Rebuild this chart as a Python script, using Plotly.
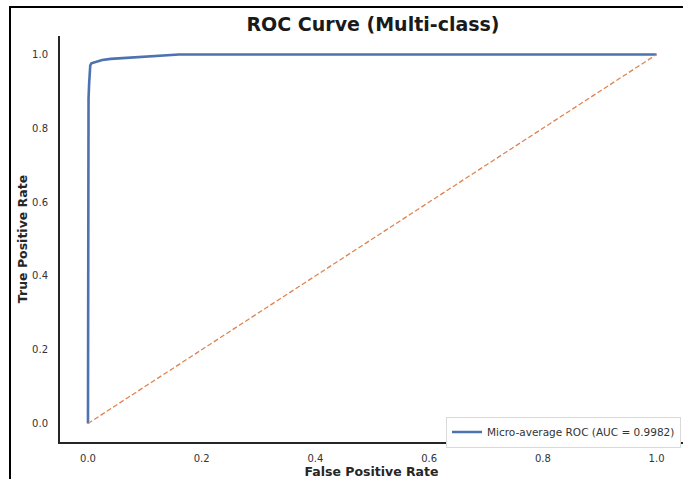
import plotly.graph_objects as go

# ROC curve (micro-average) points
fpr = [0.0, 0.0, 0.001, 0.002, 0.003, 0.004, 0.006, 0.010, 0.015, 0.025, 0.040,
       0.060, 0.080, 0.100, 0.130, 0.160, 1.0]
tpr = [0.0, 0.83, 0.88, 0.92, 0.95, 0.970, 0.976, 0.978, 0.982, 0.985, 0.988,
       0.990, 0.992, 0.994, 0.996, 1.0, 1.0]
diag_x = [0.0, 1.0]
diag_y = [0.0, 1.0]
tick_vals = [0.0, 0.2, 0.4, 0.6, 0.8, 1.0]
tick_text = ["0.0", "0.2", "0.4", "0.6", "0.8", "1.0"]
legend_label = "Micro-average ROC (AUC = 0.9982)"
title_text = "ROC Curve (Multi-class)"

W, H = 683, 479
ML, MR, MT, MB = 60, 0, 36, 37
pw = W - ML - MR
ph = H - MT - MB

fig = go.Figure()
fig.add_trace(go.Scatter(x=fpr, y=tpr, mode="lines", name=legend_label,
                         line=dict(color="#4C72B0", width=2.6)))
fig.add_trace(go.Scatter(x=diag_x, y=diag_y, mode="lines", showlegend=False,
                         line=dict(color="#DD8452", width=1.3, dash="5px,2.5px")))

axis_font = dict(family="DejaVu Sans", size=10, color="#333333")
fig.update_xaxes(range=[-0.0492, 1.0465], tickvals=tick_vals, ticktext=tick_text,
                 showgrid=False, zeroline=False, showline=True, linecolor="#262626",
                 linewidth=2, ticks="", tickfont=axis_font, ticklabelstandoff=6,
                 title=dict(text="<b>False Positive Rate</b>", standoff=1,
                            font=dict(family="DejaVu Sans", size=12.5, color="#262626")))
fig.update_yaxes(range=[-0.05, 1.05], tickvals=tick_vals, ticktext=tick_text,
                 showgrid=False, zeroline=False, showline=True, linecolor="#262626",
                 linewidth=2, ticks="", tickfont=axis_font, ticklabelstandoff=8,
                 title=dict(text="<b>True Positive Rate</b>", standoff=2,
                            font=dict(family="DejaVu Sans", size=12.5, color="#262626")))

def px_x(p):
    return (p - ML) / pw

def px_y(p):
    return (H - MB - p) / ph

fig.update_layout(
    width=W, height=H,
    margin=dict(l=ML, r=MR, t=MT, b=MB),
    paper_bgcolor="white", plot_bgcolor="white",
    title=dict(text="<b>" + title_text + "</b>", x=px_x(373), xanchor="center",
               xref="paper", y=1 - 24.5 / H, yanchor="middle",
               font=dict(family="DejaVu Sans", size=19, color="#1a1a1a")),
    legend=dict(x=px_x(681), y=px_y(416.5), xanchor="right", yanchor="top",
                bgcolor="white", bordercolor="#d9d9d9", borderwidth=1,
                font=dict(family="DejaVu Sans", size=10.5, color="#333333"),
                itemwidth=30, tracegroupgap=0),
    shapes=[
        dict(type="line", xref="paper", yref="paper",
             x0=px_x(9), x1=px_x(690), y0=px_y(7), y1=px_y(7),
             line=dict(color="black", width=2)),
        dict(type="line", xref="paper", yref="paper",
             x0=px_x(10), x1=px_x(10), y0=px_y(6), y1=px_y(485),
             line=dict(color="black", width=2)),
    ],
)

fig.write_html("out.html",
               config={"displayModeBar": False},
               post_script="document.body.style.margin='0';"
                           "document.body.style.overflow='hidden';")
